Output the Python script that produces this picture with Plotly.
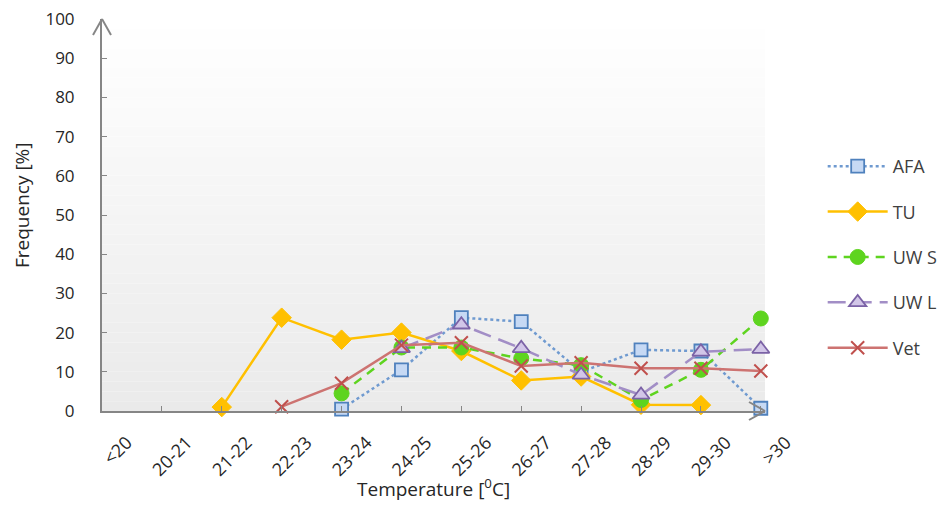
import plotly.graph_objects as go

categories = ["<20", "20-21", "21-22", "22-23", "23-24", "24-25", "25-26",
              "26-27", "27-28", "28-29", "29-30", ">30"]
afa = [None, None, None, None, 0.5, 10.5, 23.8, 22.8, 10.0, 15.6, 15.3, 0.7]
tu = [None, None, 1.0, 23.8, 18.2, 20.0, 15.3, 7.8, 8.8, 1.6, 1.5, None]
uw_s = [None, None, None, None, 4.5, 16.2, 16.2, 13.4, 11.7, 2.8, 10.5, 23.6]
uw_l = [None, None, None, None, None, 16.0, 22.0, 16.0, 9.2, 4.1, 15.1, 15.8]
vet = [None, None, None, 1.1, 7.1, 16.8, 17.4, 11.5, 12.3, 10.9, 10.9, 10.2]
y_ticks = [0, 10, 20, 30, 40, 50, 60, 70, 80, 90, 100]

FONT = "Open Sans"
AX = "#868686"
TXT = "#262626"

fig = go.Figure()

series = [
    ("AFA", afa, dict(color="#6f9ad0", width=2.5, dash="dot"),
     dict(symbol="square", size=13, color="#c6d9f4", line=dict(color="#4f81bd", width=1.8))),
    ("TU", tu, dict(color="#ffc000", width=2.5),
     dict(symbol="diamond", size=15, color="#ffc000", line=dict(color="#ffc000", width=1))),
    ("UW S", uw_s, dict(color="#5ed41f", width=2.5, dash="9px,7px"),
     dict(symbol="circle", size=15, color="#5ed41f", line=dict(color="#5ed41f", width=1))),
    ("UW L", uw_l, dict(color="#a28ec6", width=2.5, dash="18px,8px"),
     dict(symbol="triangle-up", size=15, color="#d2c6e8", line=dict(color="#7b62a6", width=1.8))),
    ("Vet", vet, dict(color="#cd7371", width=2.5),
     dict(symbol="x-thin", size=13, color="#c0504d", line=dict(color="#c0504d", width=2))),
]
for i, (name, vals, ln, mk) in enumerate(series):
    fig.add_trace(go.Scatter(
        x=list(range(len(categories))), y=vals, name=name, mode="lines+markers",
        line=ln, marker=mk, connectgaps=False, cliponaxis=False,
        legendgroup=f"g{i}"))

# gradient background stripes
shapes = []
n = 40
for k in range(n):
    t = k / (n - 1)
    c = int(round(255 - (255 - 234) * (1 - t)))
    shapes.append(dict(type="rect", xref="paper", yref="paper",
                       x0=0, x1=1, y0=k / n, y1=(k + 1) / n,
                       fillcolor=f"rgb({c},{c},{c})", line=dict(width=0), layer="below"))
# axis arrows
for (x1, y1) in [(-9, -16), (9, -16)]:
    shapes.append(dict(type="line", xref="paper", yref="paper", xsizemode="pixel",
                       ysizemode="pixel", xanchor=0, yanchor=1, x0=0, y0=0, x1=x1, y1=y1,
                       line=dict(color=AX, width=2)))
for (x1, y1) in [(-16, 9), (-16, -9)]:
    shapes.append(dict(type="line", xref="paper", yref="paper", xsizemode="pixel",
                       ysizemode="pixel", xanchor=1, yanchor=0, x0=0, y0=0, x1=x1, y1=y1,
                       line=dict(color=AX, width=2)))

# page body has an 8px margin: figure is sized/offset to compensate
fig.update_layout(
    width=934, height=493,
    margin=dict(l=94, r=177, t=11, b=90, autoexpand=False),
    paper_bgcolor="white", plot_bgcolor="rgba(0,0,0,0)",
    font=dict(family=FONT, color="#404040", size=19),
    shapes=shapes,
    showlegend=True,
    legend=dict(x=1.087, y=0.671, xanchor="left", yanchor="top",
                font=dict(size=18, color="#404040"), tracegroupgap=19,
                itemwidth=60, bgcolor="rgba(0,0,0,0)"),
    xaxis=dict(
        range=[0, 11.07], tickmode="array", tickvals=list(range(len(categories))),
        ticktext=categories, tickangle=-45, showgrid=False, zeroline=False,
        showline=True, linecolor=AX, linewidth=2, ticks="inside", ticklen=5,
        tickcolor=AX, tickwidth=1, tickfont=dict(size=18, color=TXT),
        ticklabelstandoff=12, ticklabelshift=25, automargin=False,
        ticklabeloverflow="allow"),
    yaxis=dict(
        range=[0, 100], tickmode="array", tickvals=y_ticks, showgrid=False,
        zeroline=False, showline=True, linecolor=AX, linewidth=2, ticks="inside",
        ticklen=5, tickcolor=AX, tickwidth=1, tickfont=dict(size=17, color=TXT),
        ticklabelstandoff=22, automargin=False, ticklabeloverflow="allow"),
    annotations=[
        dict(text="Temperature [<sup>0</sup>C]", xref="paper", yref="paper",
             x=0.5, y=0, yshift=-77, xanchor="center", yanchor="middle",
             showarrow=False, font=dict(size=19, color=TXT)),
        dict(text="Frequency [%]", xref="paper", yref="paper", textangle=-90,
             x=0, xshift=-80, y=0.5, yshift=10, xanchor="center", yanchor="middle",
             showarrow=False, font=dict(size=19, color=TXT)),
    ],
)

fig.write_html("out.html")
